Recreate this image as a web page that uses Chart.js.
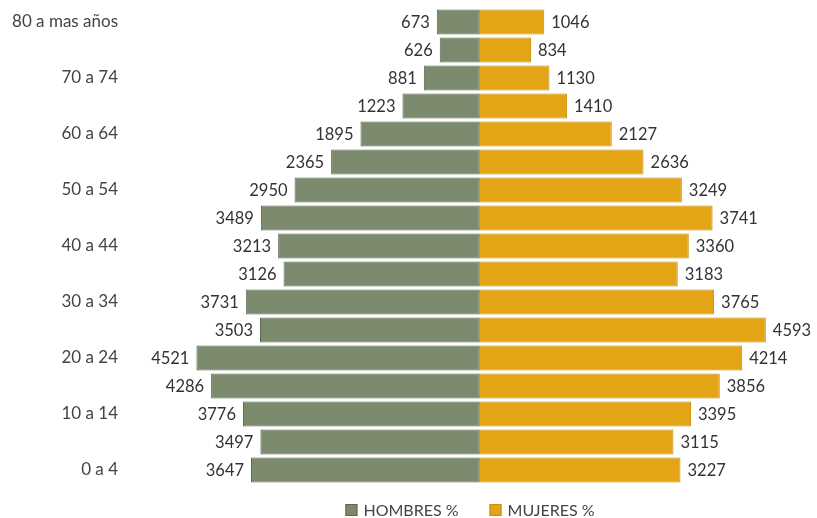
<!DOCTYPE html>
<html>
<head>
<meta charset="utf-8">
<script src="https://cdn.jsdelivr.net/npm/chart.js@4"></script>
<style>
  html, body { margin: 0; padding: 0; background: #fff; }
  #wrap { width: 817px; height: 518px; }
</style>
</head>
<body>
<div id="wrap"><canvas id="pyramid-chart" width="817" height="518"></canvas></div>
<script>
// age groups, oldest first
const ageGroups = [
  '80 a mas años', '75 a 79', '70 a 74', '65 a 69', '60 a 64', '55 a 59',
  '50 a 54', '45 a 49', '40 a 44', '35 a 39', '30 a 34', '25 a 29',
  '20 a 24', '15 a 19', '10 a 14', '5 a 9', '0 a 4'
];
const hombres = [673, 626, 881, 1223, 1895, 2365, 2950, 3489, 3213, 3126, 3731, 3503, 4521, 4286, 3776, 3497, 3647];
const mujeres = [1046, 834, 1130, 1410, 2127, 2636, 3249, 3741, 3360, 3183, 3765, 4593, 4214, 3856, 3395, 3115, 3227];

const FONT = 'Lato, "Open Sans", sans-serif';

// value labels at the outer end of each bar
const endLabels = {
  id: 'endLabels',
  afterDatasetsDraw(chart) {
    const c = chart.ctx;
    c.save();
    c.font = '16.5px ' + FONT;
    c.fillStyle = '#333';
    c.textBaseline = 'middle';
    chart.data.datasets.forEach((ds, i) => {
      chart.getDatasetMeta(i).data.forEach((bar, j) => {
        const v = Math.abs(ds.data[j]);
        if (i === 0) {
          c.textAlign = 'right';
          c.fillText(v, bar.x - 7, bar.y + 1);
        } else {
          c.textAlign = 'left';
          c.fillText(v, bar.x + 7, bar.y + 1);
        }
      });
    });
    c.restore();
  }
};

// legend row under the bars, centred on the plot area
const bottomLegend = {
  id: 'bottomLegend',
  afterDraw(chart) {
    const c = chart.ctx;
    const area = chart.chartArea;
    const box = 12, gap = 6, spacing = 31;
    const y = 510;
    c.save();
    c.font = '16px ' + FONT;
    c.textBaseline = 'middle';
    c.textAlign = 'left';
    const items = chart.data.datasets.map(ds => ({
      text: ds.label, fill: ds.backgroundColor, stroke: ds.borderColor,
      w: box + gap + c.measureText(ds.label).width
    }));
    const total = items.reduce((s, it) => s + it.w, 0) + spacing * (items.length - 1);
    let x = (area.left + area.right) / 2 - total / 2;
    items.forEach(it => {
      c.fillStyle = it.fill;
      c.fillRect(x, y - box / 2, box, box);
      c.strokeStyle = it.stroke;
      c.lineWidth = 1;
      c.strokeRect(x + 0.5, y - box / 2 + 0.5, box - 1, box - 1);
      c.fillStyle = '#444';
      c.fillText(it.text, x + box + gap, y + 1);
      x += it.w + spacing;
    });
    c.restore();
  }
};

const ctx = document.getElementById('pyramid-chart').getContext('2d');
new Chart(ctx, {
  type: 'bar',
  data: {
    labels: ageGroups,
    datasets: [{
      label: 'HOMBRES %',
      data: hombres.map(v => -v),
      backgroundColor: '#7b8a6c',
      borderColor: '#5b6a4c',
      borderWidth: 1,
      borderSkipped: false
    }, {
      label: 'MUJERES %',
      data: mujeres,
      backgroundColor: '#e3a516',
      borderColor: '#c98f0c',
      borderWidth: 1,
      borderSkipped: false
    }]
  },
  options: {
    indexAxis: 'y',
    responsive: false,
    animation: false,
    layout: { padding: { top: 8, right: 7, left: 0, bottom: 34 } },
    scales: {
      x: {
        stacked: true,
        display: false,
        min: -5584,
        max: 5300
      },
      y: {
        stacked: true,
        grid: { display: false, drawTicks: false },
        border: { display: false },
        afterFit(axis) {
          axis.width = 130;
          // bars fill the full height, no room kept for label overhang
          axis.paddingTop = 0;
          axis.paddingBottom = 0;
        },
        ticks: {
          autoSkip: false,
          color: '#444',
          padding: 12,
          font: { family: FONT, size: 17 },
          callback(value, index) {
            return index % 2 === 0 ? ageGroups[index] : '';
          }
        }
      }
    },
    datasets: {
      bar: { barPercentage: 0.9, categoryPercentage: 1 }
    },
    plugins: {
      legend: { display: false },
      tooltip: { enabled: false }
    }
  },
  plugins: [endLabels, bottomLegend]
});
</script>
</body>
</html>
